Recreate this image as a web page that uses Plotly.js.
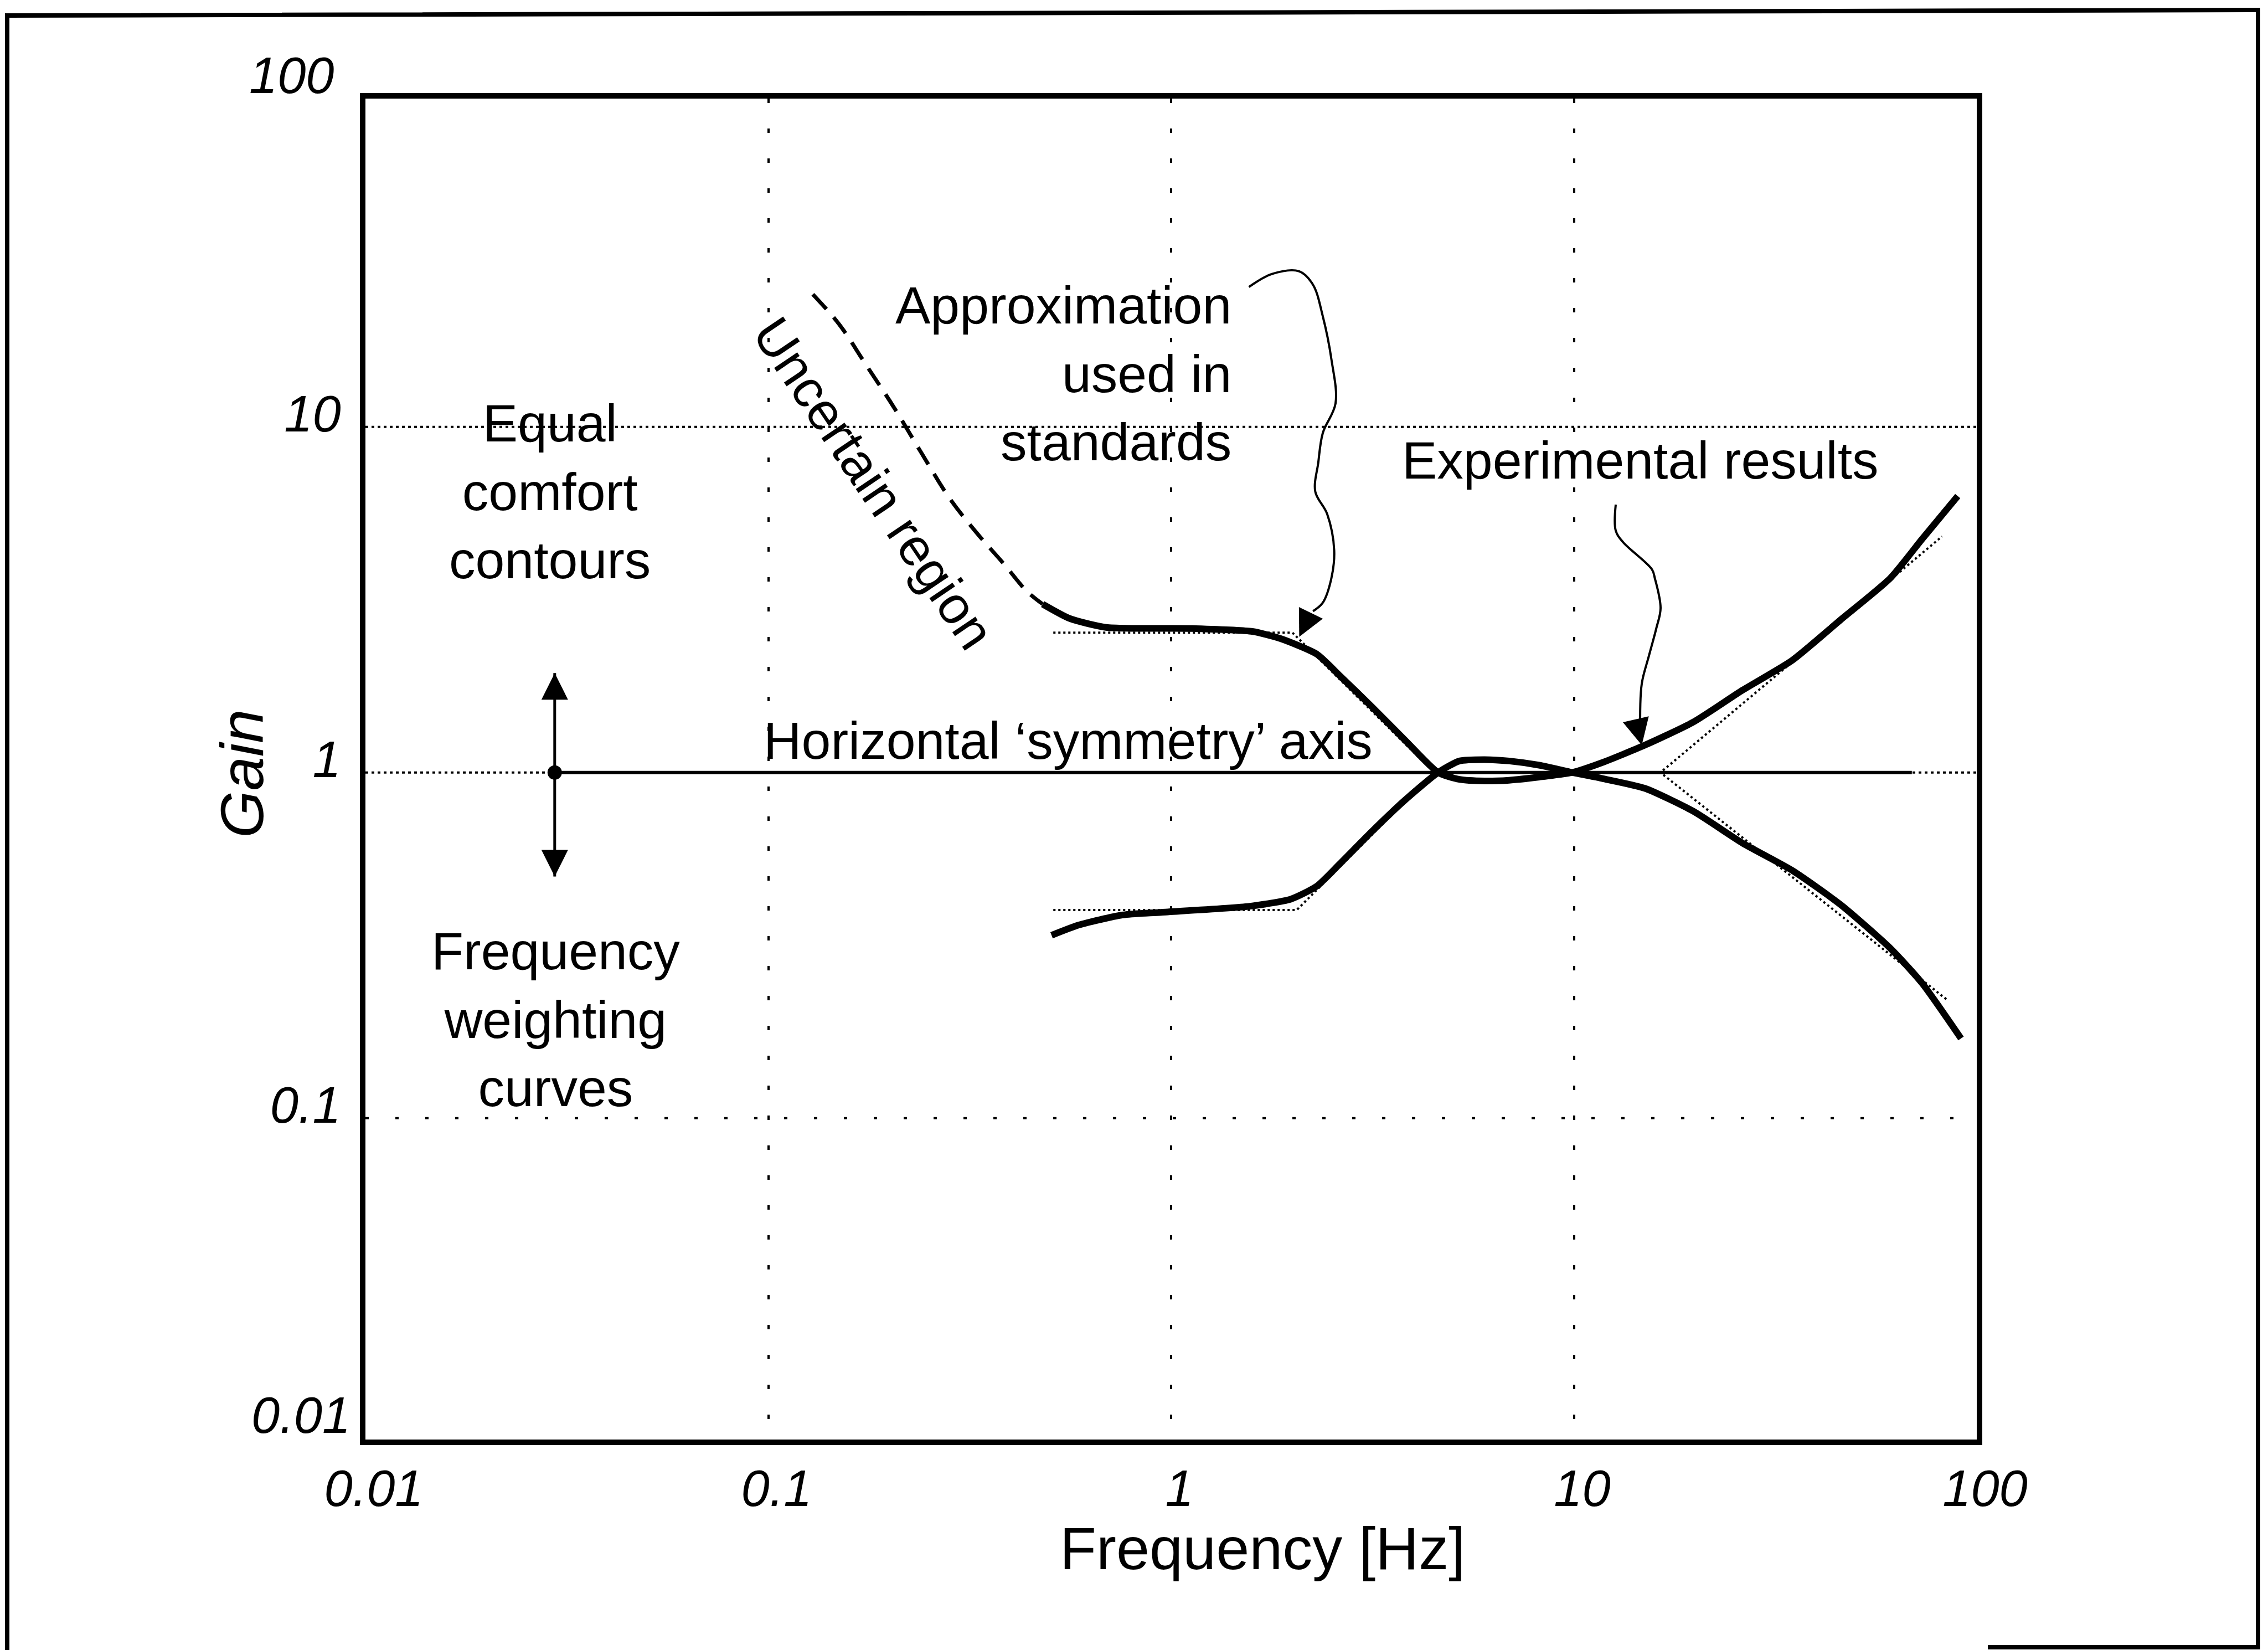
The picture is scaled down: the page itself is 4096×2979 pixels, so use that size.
<!DOCTYPE html>
<html><head><meta charset="utf-8">
<script src="https://cdn.plot.ly/plotly-3.0.1.min.js"></script>
<style>html,body{margin:0;padding:0;background:#fff;}#chart{width:4096px;height:2979px;}</style>
</head><body><div id="chart"></div>
<script>
// ---------------- data ----------------
const xTickVals = [0.01, 0.1, 1, 10, 100];
const xTickText = ['0.01', '0.1', '1', '10', '100'];
const yTickVals = [0.1, 1, 10];
const yTickText = ['0.1', '1', '10'];
const yEdgeLabels = ['100', '0.01'];
const yGridVals = [10, 1, 0.1];

// Equal comfort contour (thick, upper-left branch)
const comfortFreq = [0.48, 0.56, 0.69, 1.13, 1.59, 1.87, 2.30, 2.63, 3.15, 3.81, 4.6, 5.2, 6.0, 6.9, 8.2, 9.9, 11.8, 15.0, 19.8, 26.2, 34.8, 46.0, 61.0, 73.1, 89.7];
const comfortGain = [3.07, 2.79, 2.63, 2.61, 2.56, 2.44, 2.20, 1.90, 1.55, 1.24, 1.0, 0.955, 0.945, 0.95, 0.97, 1.0, 1.07, 1.20, 1.40, 1.73, 2.11, 2.77, 3.65, 4.73, 6.31];
// Frequency weighting curve (thick, lower-left branch)
const weightFreq = [0.505, 0.59, 0.756, 0.944, 1.56, 1.98, 2.30, 2.63, 3.15, 3.81, 4.6, 5.2, 6.0, 6.9, 8.2, 9.9, 11.8, 15.0, 19.8, 26.2, 34.8, 46.0, 61.0, 73.1, 91.4];
const weightGain = [0.338, 0.362, 0.387, 0.394, 0.410, 0.430, 0.469, 0.546, 0.675, 0.833, 1.0, 1.08, 1.09, 1.08, 1.05, 1.0, 0.96, 0.90, 0.772, 0.625, 0.521, 0.414, 0.310, 0.246, 0.170];
// Uncertain region (dashed extension)
const uncertainFreq = [0.129, 0.150, 0.175, 0.205, 0.240, 0.281, 0.328, 0.384, 0.438, 0.48];
const uncertainGain = [24.2, 19.8, 15.1, 11.4, 8.41, 6.25, 4.96, 4.02, 3.35, 3.07];
// Approximation used in standards (thin dotted)
const approxUpperFreq = [0.51, 2.0, 4.5, 16.4, 82.0];
const approxUpperGain = [2.54, 2.54, 1.0, 1.0, 4.82];
const approxLowerFreq = [0.51, 2.05, 4.5, 16.4, 84.8];
const approxLowerGain = [0.40, 0.40, 1.0, 1.0, 0.219];
// Horizontal symmetry axis
const symFreq = [0.0295, 69];
const symGain = [1, 1];
// Double arrow (up / down) at the left
const dblArrowFreq = [0.0295, 0.0295];
const dblArrowGain = [0.50, 1.94];
const dblArrowDot = [1];
// Curly pointer to "approximation used in standards"
const ptr1Freq = [1.56, 1.78, 2.08, 2.25, 2.38, 2.50, 2.56, 2.38, 2.32, 2.28, 2.44, 2.54, 2.50, 2.38, 2.25];
const ptr1Gain = [25.4, 27.7, 28.2, 25.8, 20.9, 15.7, 11.7, 9.6, 7.9, 6.5, 5.6, 4.4, 3.65, 3.10, 2.93];
const ptr1Tip = [2.08, 2.47];
// Curly pointer to "experimental results"
const ptr2Freq = [12.7, 12.7, 13.24, 15.62, 15.88, 16.41, 16.01, 15.36, 14.74, 14.6];
const ptr2Gain = [5.96, 5.01, 4.64, 3.87, 3.65, 2.99, 2.61, 2.18, 1.81, 1.42];
const ptr2Tip = [14.74, 1.20];

// ---------------- layout geometry ----------------
const FW = 4096, FH = 2979;
const L = 660, R = 3570, T = 178, B = 2599;
const px = x => (x - L) / (R - L);
const py = y => (B - y) / (B - T);
const FONT = 'Liberation Sans, Arial, sans-serif';
const BLK = '#000';

const traces = [];
// horizontal grid lines
const gridDash = {10: '5px,6px', 1: '5px,6px', 0.1: '6px,48px'};
yGridVals.forEach(v => traces.push({
  x: [xTickVals[0], xTickVals[xTickVals.length - 1]], y: [v, v], mode: 'lines',
  line: {color: BLK, width: 4, dash: gridDash[v]}, hoverinfo: 'skip'
}));
// approximation (thin dotted)
traces.push({x: approxUpperFreq, y: approxUpperGain, mode: 'lines', line: {color: BLK, width: 4, dash: '4px,5px'}});
traces.push({x: approxLowerFreq, y: approxLowerGain, mode: 'lines', line: {color: BLK, width: 4, dash: '4px,5px'}});
// symmetry axis
traces.push({x: symFreq, y: symGain, mode: 'lines', line: {color: BLK, width: 6}});
// thick curves
traces.push({x: comfortFreq, y: comfortGain, mode: 'lines', line: {color: BLK, width: 12, shape: 'spline', smoothing: 0.6}});
traces.push({x: weightFreq, y: weightGain, mode: 'lines', line: {color: BLK, width: 12, shape: 'spline', smoothing: 0.6}});
// uncertain region dashed
traces.push({x: uncertainFreq, y: uncertainGain, mode: 'lines', line: {color: BLK, width: 7, dash: '36px,20px', shape: 'spline'}});
// double arrow
traces.push({x: dblArrowFreq, y: dblArrowGain, mode: 'lines', line: {color: BLK, width: 5}});
traces.push({x: dblArrowFreq, y: dblArrowGain, mode: 'markers',
  marker: {symbol: ['arrow-down', 'arrow-up'], size: 48, color: BLK, line: {width: 0}}});
traces.push({x: [dblArrowFreq[0]], y: dblArrowDot, mode: 'markers', marker: {symbol: 'circle', size: 26, color: BLK}});
// pointers
traces.push({x: ptr1Freq, y: ptr1Gain, mode: 'lines', line: {color: BLK, width: 4, shape: 'spline'}});
traces.push({x: [ptr1Tip[0]], y: [ptr1Tip[1]], mode: 'markers', marker: {symbol: 'arrow-up', size: 48, angle: 206, color: BLK, line: {width: 0}}});
traces.push({x: ptr2Freq, y: ptr2Gain, mode: 'lines', line: {color: BLK, width: 4, shape: 'spline'}});
traces.push({x: [ptr2Tip[0]], y: [ptr2Tip[1]], mode: 'markers', marker: {symbol: 'arrow-up', size: 48, angle: 167, color: BLK, line: {width: 0}}});

const txt = (text, x, y, extra) => Object.assign({
  text: text, xref: 'paper', yref: 'paper', x: px(x), y: py(y), showarrow: false,
  xanchor: 'center', yanchor: 'middle', font: {family: FONT, size: 95, color: BLK}
}, extra || {});

const annotations = [
  txt('Approximation<br>used in<br>standards', 2226, 674, {xanchor: 'right', align: 'right'}),
  txt('Equal<br>comfort<br>contours', 993, 888),
  txt('Frequency<br>weighting<br>curves', 1003, 1841),
  txt('Horizontal ‘symmetry’ axis', 1377, 1337, {xanchor: 'left'}),
  txt('Experimental results', 2962, 831),
  txt('Uncertain region', 1578, 872, {textangle: 56}),
  txt('Gain', 436, 1397, {textangle: -90, font: {family: FONT, size: 110, color: BLK, style: 'italic'}}),
  txt('Frequency [Hz]', 2280, 2795, {font: {family: FONT, size: 108, color: BLK}}),
  txt(yEdgeLabels[0], 606, 136, {xanchor: 'right', font: {family: FONT, size: 92, color: BLK, style: 'italic'}}),
  txt(yEdgeLabels[1], 635, 2555, {xanchor: 'right', font: {family: FONT, size: 92, color: BLK, style: 'italic'}})
];

const shapes = [
  {type: 'path', xref: 'paper', yref: 'paper',
   path: `M ${px(13)},${py(2979)} L ${px(13)},${py(28)} L ${px(4078)},${py(18)} L ${px(4078)},${py(2974)} L ${px(3590)},${py(2974)}`,
   line: {color: BLK, width: 8}}
];

const tickFont = {family: FONT, size: 92, color: BLK, style: 'italic'};
const layout = {
  width: FW, height: FH,
  margin: {l: L, r: FW - R, t: T, b: FH - B, pad: 0},
  paper_bgcolor: '#fff', plot_bgcolor: '#fff',
  showlegend: false, hovermode: false,
  xaxis: {type: 'log', range: [-2, 2], tickvals: xTickVals, ticktext: xTickText,
    showgrid: true, gridcolor: BLK, gridwidth: 4, griddash: '8px,46px',
    showline: true, mirror: true, linecolor: BLK, linewidth: 10, ticks: '',
    tickfont: tickFont, ticklabelstandoff: 0, ticklabelshift: 15, zeroline: false, fixedrange: true},
  yaxis: {type: 'log', range: [-1.93, 1.95], tickvals: yTickVals, ticktext: yTickText,
    showgrid: false, showline: true, mirror: true, linecolor: BLK, linewidth: 10, ticks: '',
    tickfont: tickFont, ticklabelstandoff: 16, ticklabelshift: -24, zeroline: false, fixedrange: true},
  annotations: annotations,
  shapes: shapes
};

Plotly.newPlot('chart', traces, layout, {staticPlot: true, displayModeBar: false});
</script>
</body></html>
